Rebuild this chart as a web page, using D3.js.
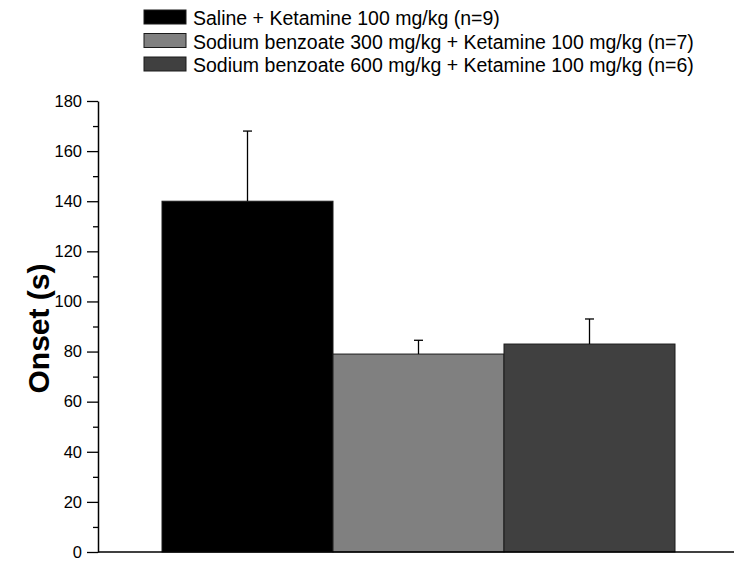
<!DOCTYPE html>
<html>
<head>
<meta charset="utf-8">
<script src="https://cdn.jsdelivr.net/npm/d3@7"></script>
<style>
  body { margin: 0; background: #fff; }
  svg { font-family: "Liberation Sans", Arial, sans-serif; }
</style>
</head>
<body>
<svg id="chart" width="734" height="561"></svg>
<script>
// data
const groups = [
  "Saline + Ketamine 100 mg/kg (n=9)",
  "Sodium benzoate 300 mg/kg + Ketamine 100 mg/kg (n=7)",
  "Sodium benzoate 600 mg/kg + Ketamine 100 mg/kg (n=6)"
];
const means = [140, 79, 83];
const errors = [28, 5.5, 10];
const colors = ["#000000", "#808080", "#404040"];
const yTicks = [0, 20, 40, 60, 80, 100, 120, 140, 160, 180];

const svg = d3.select("#chart");

const plotLeft = 98, plotRight = 734, plotTop = 101, plotBottom = 552;

// bars sit between x=162 and x=675
const x = d3.scaleBand()
  .domain(d3.range(groups.length))
  .range([162, 675])
  .padding(0);

const y = d3.scaleLinear()
  .domain([0, 180])
  .range([plotBottom, plotTop]);

// minor ticks
svg.append("g")
  .attr("transform", `translate(${plotLeft},0)`)
  .call(d3.axisLeft(y).tickValues(d3.range(10, 180, 20)).tickSize(5).tickFormat(""))
  .call(g => g.select(".domain").remove())
  .selectAll("line").attr("stroke", "#000").attr("stroke-width", 1.3);

// bars
svg.selectAll(".bar")
  .data(means)
  .join("rect")
    .attr("class", "bar")
    .attr("x", (d, i) => x(i))
    .attr("y", d => y(d))
    .attr("width", x.bandwidth())
    .attr("height", d => y(0) - y(d))
    .attr("fill", (d, i) => colors[i])
    .attr("stroke", "#1a1a1a")
    .attr("stroke-width", 1);

// error bars (upper only)
const eb = svg.selectAll(".err")
  .data(means)
  .join("g")
    .attr("class", "err");
eb.append("line")
  .attr("x1", (d, i) => x(i) + x.bandwidth() / 2)
  .attr("x2", (d, i) => x(i) + x.bandwidth() / 2)
  .attr("y1", d => y(d))
  .attr("y2", (d, i) => y(d + errors[i]))
  .attr("stroke", "#000")
  .attr("stroke-width", 1.3);
eb.append("line")
  .attr("x1", (d, i) => x(i) + x.bandwidth() / 2 - 4.5)
  .attr("x2", (d, i) => x(i) + x.bandwidth() / 2 + 4.5)
  .attr("y1", (d, i) => y(d + errors[i]))
  .attr("y2", (d, i) => y(d + errors[i]))
  .attr("stroke", "#000")
  .attr("stroke-width", 1.3);

// y axis
const yAxis = svg.append("g")
  .attr("transform", `translate(${plotLeft},0)`)
  .call(d3.axisLeft(y).tickValues(yTicks).tickSize(11).tickSizeOuter(0).tickPadding(5));
yAxis.select(".domain").attr("stroke", "#000").attr("stroke-width", 1.5);
yAxis.selectAll("line").attr("stroke", "#000").attr("stroke-width", 1.3);
yAxis.selectAll("text")
  .attr("font-family", "Liberation Sans, Arial, sans-serif")
  .attr("font-size", 16.5)
  .attr("fill", "#000");

// x axis line
svg.append("line")
  .attr("x1", plotLeft)
  .attr("x2", plotRight)
  .attr("y1", y(0))
  .attr("y2", y(0))
  .attr("stroke", "#000")
  .attr("stroke-width", 1.5);

// y title
svg.append("text")
  .attr("transform", `translate(38,${(plotTop + plotBottom) / 2 + 2}) rotate(-90)`)
  .attr("text-anchor", "middle")
  .attr("dominant-baseline", "central")
  .attr("font-size", 30)
  .attr("font-weight", "bold")
  .text("Onset (s)");

// legend
const legend = svg.append("g");
const rows = legend.selectAll("g")
  .data(groups)
  .join("g")
    .attr("transform", (d, i) => `translate(144,${17 + i * 23.5})`);
rows.append("rect")
  .attr("y", -7)
  .attr("width", 42)
  .attr("height", 14)
  .attr("fill", (d, i) => colors[i])
  .attr("stroke", "#1a1a1a")
  .attr("stroke-width", 1);
rows.append("text")
  .attr("x", 49)
  .attr("y", 1)
  .attr("dominant-baseline", "central")
  .attr("font-size", 19.5)
  .text(d => d);
</script>
</body>
</html>
